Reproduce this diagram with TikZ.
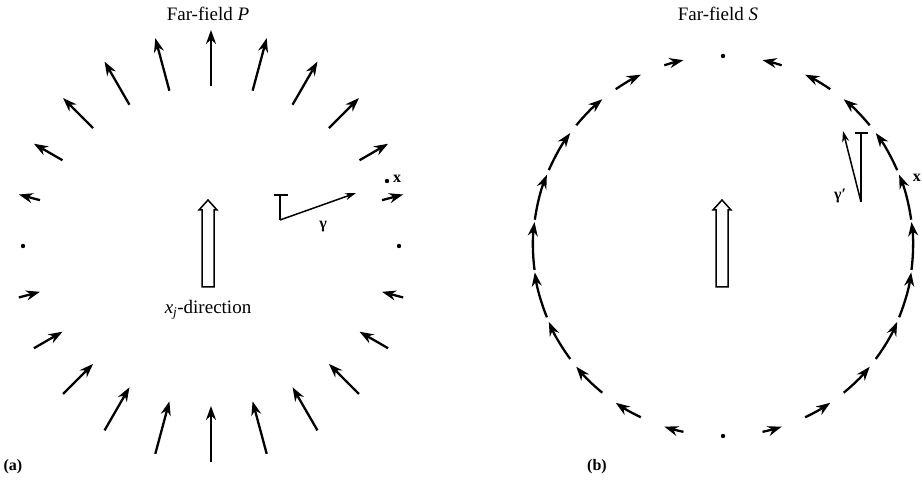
\documentclass[tikz,border=0pt]{standalone}
\usepackage{amsmath,amssymb}
\usepackage{fontspec}
\setmainfont{Liberation Serif}
\usetikzlibrary{arrows.meta}

\begin{document}
\begin{tikzpicture}[x=1pt, y=1pt, >={Stealth[length=14pt, width=10pt]},
      fld/.style={line width=2.3pt, ->},
      frame/.style={line width=1.5pt},
      openarrow/.style={draw, line width=1.5pt, fill=white},
      lbl/.style={font=\fontsize{19}{21}\selectfont, inner sep=0pt},
      sym/.style={font=\fontsize{16}{18}\selectfont\bfseries, inner sep=0pt}]

    \useasboundingbox (0,0) rectangle (922,481);

    \def\R{188}   % radius of the far-field circle
    \def\Rs{190}

    % (a) Far-field P: radial arrows, length ~ |cos theta|
    \begin{scope}[shift={(211,235)}]
      \foreach \a in {0,15,...,345}{
        \pgfmathsetmacro{\c}{sin(\a)}
        \pgfmathsetmacro{\L}{10+46*abs(\c)}
        \ifdim \c pt>0.01pt
          \draw[fld] (\a:{\R-\L/2}) -- (\a:{\R+\L/2});
        \else\ifdim \c pt<-0.01pt
          \draw[fld] (\a:{\R+\L/2}) -- (\a:{\R-\L/2});
        \else
          \fill (\a:\R) circle (2.2pt);
        \fi\fi
      }
    \end{scope}

    % source direction
    \draw[openarrow] (202,194) -- (214,194) -- (214,271) -- (217,271) -- (208,281)
      -- (199,271) -- (202,271) -- cycle;
    \node[lbl] (dirlbl) at (208,171) {\textit{x}\textsubscript{\textit{j}}-direction};

    % unit vector gamma
    \draw[frame] (274,286) -- (288,286);
    \draw[frame] (280,286) -- (280,261);
    \draw[frame, -{Stealth[length=11pt, width=7pt]}] (280,261) -- (356,288);
    \node[sym] (gam) at (323,254) {γ};
    \fill (387,300) circle (2.2pt);
    \node[sym, anchor=west] (xa) at (393,302) {x};

    \node[lbl] (titleP) at (208,467) {Far-field \textit{P}};
    \node[lbl, font=\fontsize{16}{18}\selectfont\bfseries] (lbla) at (13,14) {(a)};

    % (b) Far-field S: tangential arrows, length ~ |sin theta|
    \begin{scope}[shift={(723,235)}]
      \foreach \a in {0,15,...,345}{
        \pgfmathsetmacro{\c}{cos(\a)}
        \pgfmathsetmacro{\sp}{(10+38*abs(\c))/\Rs*57.2958}
        \ifdim \c pt>0.01pt
          \draw[fld] (\a-\sp/2:\Rs) arc[start angle=\a-\sp/2, end angle=\a+\sp/2, radius=\Rs];
        \else\ifdim \c pt<-0.01pt
          \draw[fld] (\a+\sp/2:\Rs) arc[start angle=\a+\sp/2, end angle=\a-\sp/2, radius=\Rs];
        \else
          \fill (\a:\Rs) circle (2.2pt);
        \fi\fi
      }
    \end{scope}

    \draw[openarrow] (716,194) -- (728,194) -- (728,271) -- (731,271) -- (722,281)
      -- (713,271) -- (716,271) -- cycle;

    % unit vector gamma'
    \draw[frame] (855,348) -- (868,348);
    \draw[frame] (861,348) -- (861,279);
    \draw[frame, -{Stealth[length=11pt, width=7pt]}] (861,279) -- (843,350);
    \node[sym] (gamp) at (840,285) {γ′};
    \node[sym, anchor=east] (xb) at (921,303) {x};

    \node[lbl] (titleS) at (718,467) {Far-field \textit{S}};
    \node[lbl, font=\fontsize{16}{18}\selectfont\bfseries] (lblb) at (597,14) {(b)};

\end{tikzpicture}
\end{document}
